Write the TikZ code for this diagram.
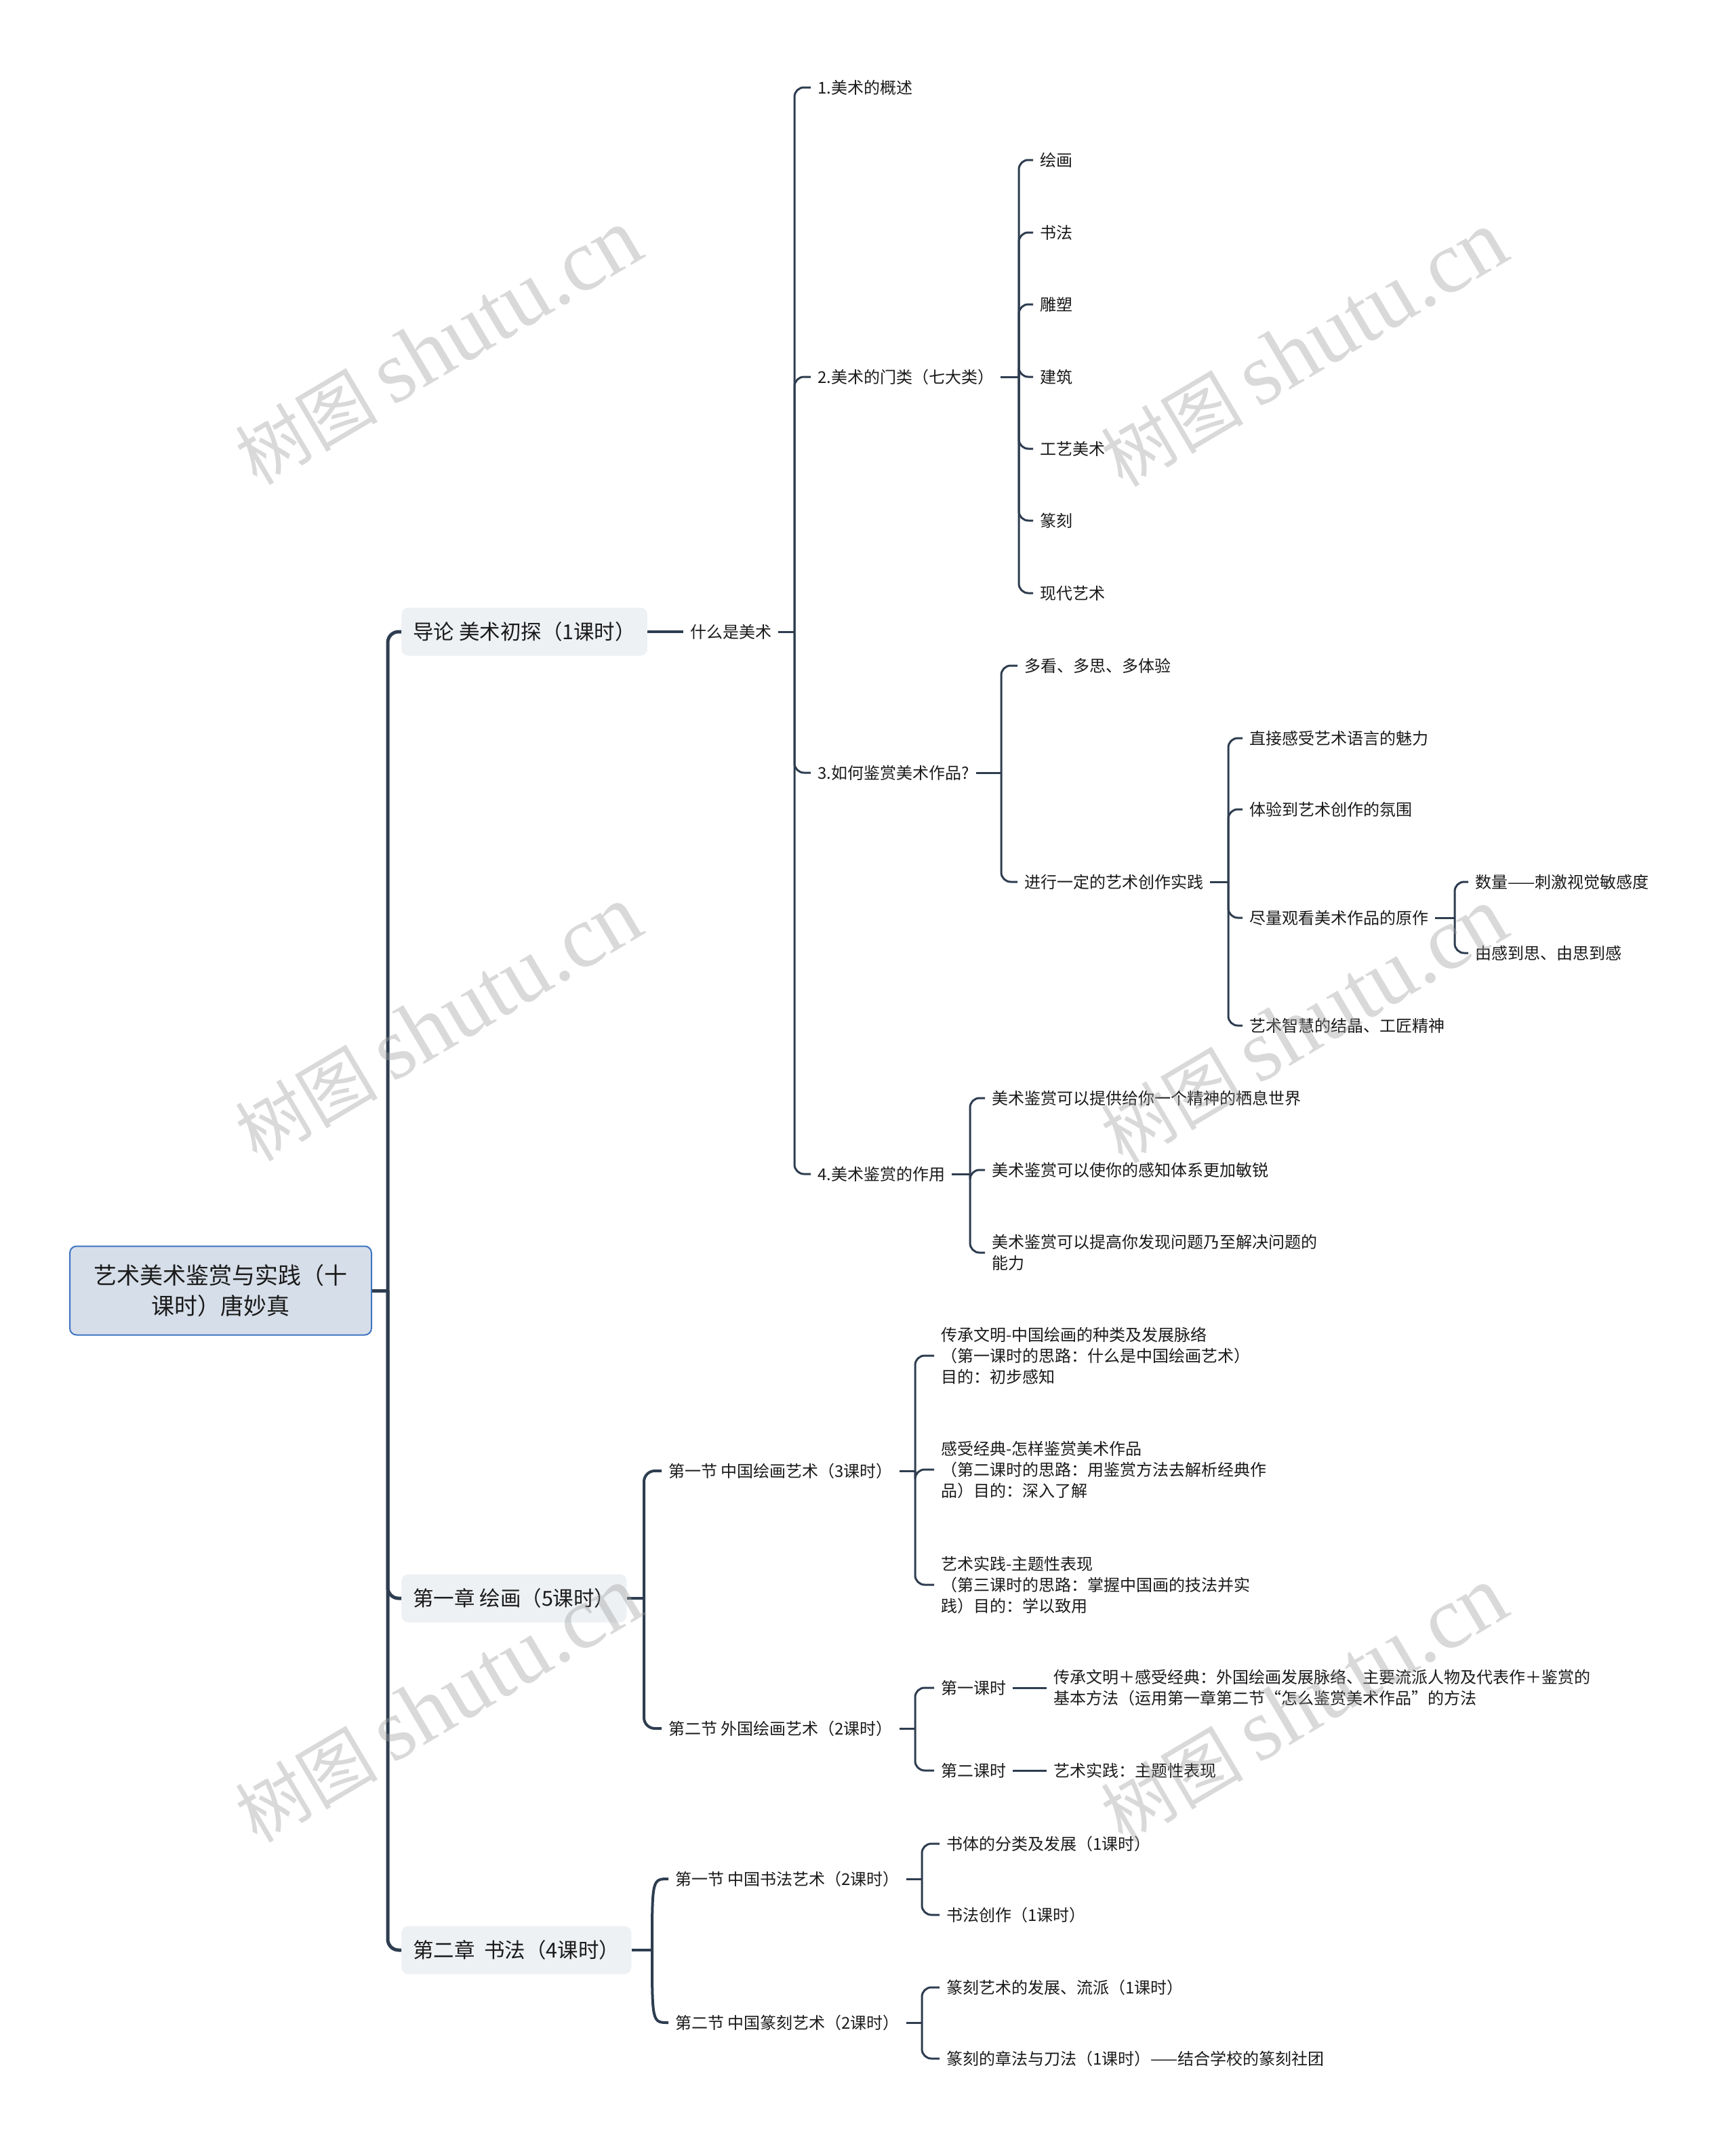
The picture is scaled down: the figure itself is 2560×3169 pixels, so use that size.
\documentclass[tikz,border=0pt]{standalone}
\usepackage{fontspec}
\setmainfont{Noto Sans CJK SC}
\newfontfamily\wmlatin{Liberation Serif}
\definecolor{ln}{HTML}{2E3D50}
\definecolor{lvfill}{HTML}{EEF1F4}
\definecolor{rootfill}{HTML}{D6DEE9}
\definecolor{rootdraw}{HTML}{3D74C2}
\definecolor{txt}{HTML}{1A1A1A}
\definecolor{wmc}{HTML}{A0A0A0}
\newcommand\fsS{\fontsize{24}{31}\selectfont}
\newcommand\fsM{\fontsize{30.5}{36}\selectfont}
\newcommand\fsL{\fontsize{34}{45}\selectfont}
\newcommand\wmtext{{\fontsize{105}{110}\selectfont 树图}\hspace{22pt}{\wmlatin\fontsize{130}{130}\selectfont shutu.cn}}
\begin{document}
\begin{tikzpicture}[x=1pt,y=-1pt,
  leaf/.style={anchor=west, inner xsep=10pt, inner ysep=4pt, align=left, font=\fsS, text=txt},
  lvone/.style={anchor=west, fill=lvfill, rounded corners=10pt, inner xsep=17pt, inner ysep=0pt, minimum height=71pt, font=\fsM, text=txt},
  rootbox/.style={draw=rootdraw, fill=rootfill, line width=2pt, rounded corners=10pt, minimum width=445pt, minimum height=131pt, align=center, font=\fsL, text=txt, inner sep=0pt},
  lwa/.style={draw=ln, line width=5pt, rounded corners=16pt},
  lwb/.style={draw=ln, line width=4pt, rounded corners=16pt},
  lwc/.style={draw=ln, line width=3pt, rounded corners=14pt},
  wm/.style={text=wmc, opacity=0.4, text opacity=0.4, rotate=30.6, inner sep=0pt}
]
\useasboundingbox (0,0) rectangle (2560,3169);

% root and level one
\node[rootbox] (root) at (325.5,1904) {艺术美术鉴赏与实践（十\\课时）唐妙真};
\node[lvone] (intro) at (592,932) {导论 美术初探（1课时）\hspace{9pt}};
\node[lvone] (ch1) at (592,2358) {第一章 绘画（5课时）\hspace{14pt}};
\node[lvone] (ch2) at (592,2877) {第二章\ \ 书法（4课时）\hspace{9pt}};

\coordinate (sp0) at (572,1904);
\draw[lwa] (root.east) -- (sp0);
\draw[lwa] (sp0) |- (intro.west);
\draw[lwa] (sp0) |- (ch1.west);
\draw[lwa] (sp0) |- (ch2.west);

% intro branch
\node[leaf] (what) at (1008,932) {什么是美术};
\draw[lwb] (intro.east) -- (what.west);

\node[leaf] (a1) at (1196,129) {1.美术的概述};
\node[leaf] (a2) at (1196,556) {2.美术的门类（七大类）};
\node[leaf] (a3) at (1196,1140) {3.如何鉴赏美术作品?};
\node[leaf] (a4) at (1196,1732) {4.美术鉴赏的作用};
\coordinate (spa) at (1172,932);
\draw[lwc] (what.east) -- (spa);
\foreach \n in {a1,a2,a3,a4} \draw[lwc] (spa) |- (\n.west);

\node[leaf] (b1) at (1524,236) {绘画};
\node[leaf] (b2) at (1524,343) {书法};
\node[leaf] (b3) at (1524,449) {雕塑};
\node[leaf] (b4) at (1524,556) {建筑};
\node[leaf] (b5) at (1524,662) {工艺美术};
\node[leaf] (b6) at (1524,768) {篆刻};
\node[leaf] (b7) at (1524,875) {现代艺术};
\coordinate (spb) at (1503,556);
\draw[lwc] (a2.east) -- (spb);
\foreach \n in {b1,b2,b3,b4,b5,b6,b7} \draw[lwc] (spb) |- (\n.west);

\node[leaf] (c1) at (1501,982) {多看、多思、多体验};
\node[leaf] (c2) at (1501,1301) {进行一定的艺术创作实践};
\coordinate (spc) at (1477,1140);
\draw[lwc] (a3.east) -- (spc);
\foreach \n in {c1,c2} \draw[lwc] (spc) |- (\n.west);

\node[leaf] (d1) at (1833,1089) {直接感受艺术语言的魅力};
\node[leaf] (d2) at (1833,1194) {体验到艺术创作的氛围};
\node[leaf] (d3) at (1833,1354) {尽量观看美术作品的原作};
\node[leaf] (d4) at (1833,1513) {艺术智慧的结晶、工匠精神};
\coordinate (spd) at (1812,1301);
\draw[lwc] (c2.east) -- (spd);
\foreach \n in {d1,d2,d3,d4} \draw[lwc] (spd) |- (\n.west);

\node[leaf] (e1) at (2166,1301) {数量——刺激视觉敏感度};
\node[leaf] (e2) at (2166,1406) {由感到思、由思到感};
\coordinate (spe) at (2146,1354);
\draw[lwc] (d3.east) -- (spe);
\foreach \n in {e1,e2} \draw[lwc] (spe) |- (\n.west);

\node[leaf] (f1) at (1453,1620) {美术鉴赏可以提供给你一个精神的栖息世界};
\node[leaf] (f2) at (1453,1726) {美术鉴赏可以使你的感知体系更加敏锐};
\node[leaf] (f3) at (1453,1848) {美术鉴赏可以提高你发现问题乃至解决问题的\\能力};
\coordinate (spf) at (1431,1732);
\draw[lwc] (a4.east) -- (spf);
\foreach \n in {f1,f2,f3} \draw[lwc] (spf) |- (\n.west);

% chapter one
\node[leaf] (s11) at (976,2170) {第一节 中国绘画艺术（3课时）};
\node[leaf] (s12) at (976,2550) {第二节 外国绘画艺术（2课时）};
\coordinate (spg) at (950,2358);
\draw[lwb] (ch1.east) -- (spg);
\foreach \n in {s11,s12} \draw[lwb] (spg) |- (\n.west);

\node[leaf] (g1) at (1378,2000) {传承文明-中国绘画的种类及发展脉络\\（第一课时的思路：什么是中国绘画艺术）\\目的：初步感知};
\node[leaf] (g2) at (1378,2168) {感受经典-怎样鉴赏美术作品\\（第二课时的思路：用鉴赏方法去解析经典作\\品）目的：深入了解};
\node[leaf] (g3) at (1378,2338) {艺术实践-主题性表现\\（第三课时的思路：掌握中国画的技法并实\\践）目的：学以致用};
\coordinate (sph) at (1350,2170);
\draw[lwc] (s11.east) -- (sph);
\foreach \n in {g1,g2,g3} \draw[lwc] (sph) |- (\n.west);

\node[leaf] (h1) at (1378,2490) {第一课时};
\node[leaf] (h2) at (1378,2612) {第二课时};
\coordinate (spi) at (1350,2550);
\draw[lwc] (s12.east) -- (spi);
\foreach \n in {h1,h2} \draw[lwc] (spi) |- (\n.west);

\node[leaf] (h1t) at (1544,2490) {传承文明＋感受经典：外国绘画发展脉络、主要流派人物及代表作＋鉴赏的\\基本方法（运用第一章第二节“怎么鉴赏美术作品”的方法};
\node[leaf] (h2t) at (1544,2612) {艺术实践：主题性表现};
\draw[lwc] (h1.east) -- (h1t.west);
\draw[lwc] (h2.east) -- (h2t.west);

% chapter two
\node[leaf] (s21) at (986,2772) {第一节 中国书法艺术（2课时）};
\node[leaf] (s22) at (986,2984) {第二节 中国篆刻艺术（2课时）};
\coordinate (spj) at (962,2877);
\draw[lwb] (ch2.east) -- (spj);
\draw[lwb] (spj) .. controls (962,2772) .. (s21.west);
\draw[lwb] (spj) .. controls (962,2984) .. (s22.west);

\node[leaf] (k1) at (1386,2720) {书体的分类及发展（1课时）};
\node[leaf] (k2) at (1386,2825) {书法创作（1课时）};
\coordinate (spk) at (1360,2772);
\draw[lwc] (s21.east) -- (spk);
\foreach \n in {k1,k2} \draw[lwc] (spk) |- (\n.west);

\node[leaf] (m1) at (1386,2932) {篆刻艺术的发展、流派（1课时）};
\node[leaf] (m2) at (1386,3037) {篆刻的章法与刀法（1课时）——结合学校的篆刻社团};
\coordinate (spm) at (1360,2984);
\draw[lwc] (s22.east) -- (spm);
\foreach \n in {m1,m2} \draw[lwc] (spm) |- (\n.west);

% watermarks
\node[wm] (w1) at (647,512) {\wmtext};
\node[wm] (w2) at (1924,515) {\wmtext};
\node[wm] (w3) at (647,1510) {\wmtext};
\node[wm] (w4) at (1924,1513) {\wmtext};
\node[wm] (w5) at (647,2515) {\wmtext};
\node[wm] (w6) at (1924,2515) {\wmtext};
\end{tikzpicture}
\end{document}
